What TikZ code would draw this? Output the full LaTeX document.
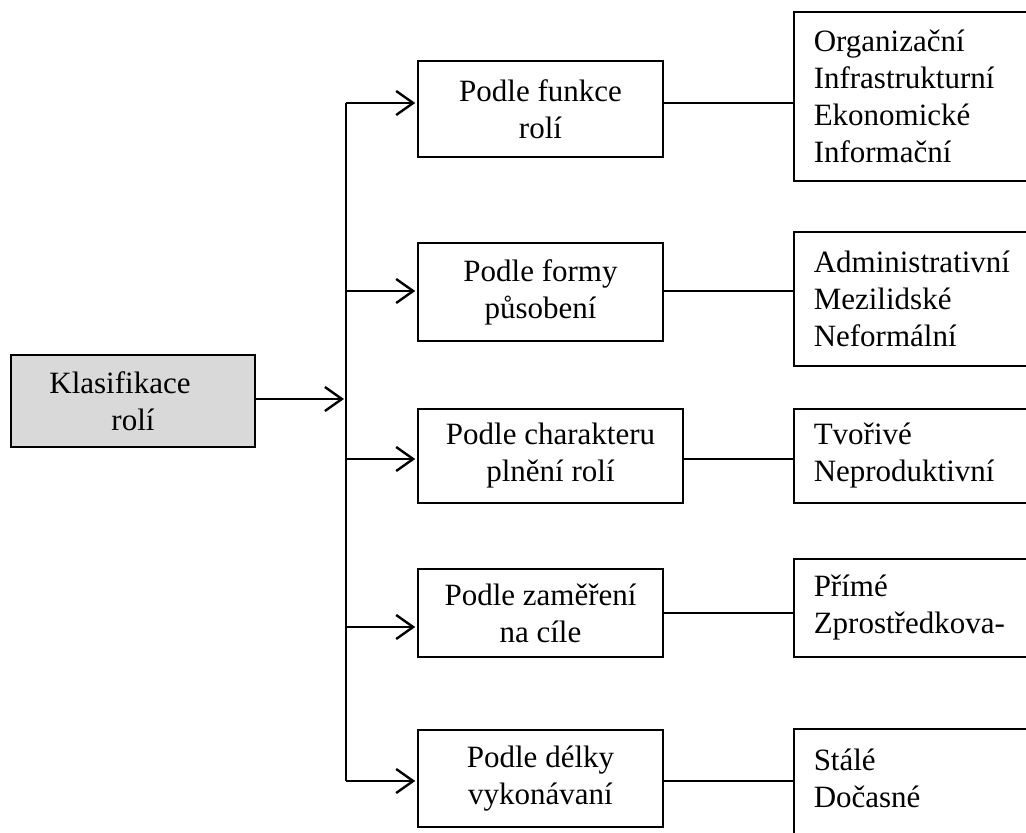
\documentclass[tikz,border=0pt]{standalone}
\usepackage{fontspec}
\setmainfont{Liberation Serif}
\usetikzlibrary{arrows.meta}
\begin{document}
\begin{tikzpicture}[x=1pt,y=-1pt,
  every node/.style={font=\fontsize{31}{37}\selectfont},
  box/.style={draw, line width=1.5pt, inner sep=0pt, align=center},
  rbox/.style={draw, line width=1.5pt, anchor=west, inner xsep=20pt, inner ysep=0pt,
               minimum width=260pt, text width=220pt, align=left},
  arr/.style={line width=2.4pt, -{Straight Barb[length=17pt,width=24pt,line width=2.4pt]}},
  trunk/.style={line width=2.4pt},
  link/.style={line width=1.6pt}]
\useasboundingbox (0,0) rectangle (1026,833);
\clip (0,0) rectangle (1026,833);

% root
\node[box, fill={rgb,255:red,217;green,217;blue,217}, minimum width=244pt, minimum height=92pt]
  (k) at (133,401) {Klasifikace\hspace*{26pt}\\rolí};

% middle boxes
\node[box, minimum width=245pt, minimum height=96pt] (b1) at (540.5,109) {Podle funkce\\rolí};
\node[box, minimum width=245pt, minimum height=98pt] (b2) at (540.5,292) {Podle formy\\působení};
\node[box, minimum width=265pt, minimum height=94pt] (b3) at (550.5,456) {Podle charakteru\\plnění rolí};
\node[box, minimum width=245pt, minimum height=88pt] (b4) at (540.5,613) {Podle zaměření\\na cíle};
\node[box, minimum width=245pt, minimum height=97pt] (b5) at (540.5,778.5) {Podle délky\\vykonávaní};

% right boxes
\node[rbox, minimum height=169pt] (r1) at (793,96.5) {Organizační\\Infrastrukturní\\Ekonomické\\Informační};
\node[rbox, minimum height=134pt] (r2) at (793,299) {Administrativní\\Mezilidské\\Neformální};
\node[rbox, minimum height=94pt] (r3) at (793,456) {Tvořivé\\Neproduktivní};
\node[rbox, minimum height=98pt] (r4) at (793,608) {Přímé\\Zprostředkova-};
\node[rbox, minimum height=116pt, text depth=54pt] (r5) at (793,787) {Stálé\\Dočasné};

% trunk coordinates
\coordinate (tin) at (346,399);
\coordinate (t1) at (346,103);
\coordinate (t2) at (346,291);
\coordinate (t3) at (346,459);
\coordinate (t4) at (346,627);
\coordinate (t5) at (346,781);

\draw[trunk] (t1) -- (t5);
\draw[arr, shorten >=2pt] (k.east |- tin) -- (tin);
\draw[arr, shorten >=2pt] (t1) -- (t1 -| b1.west);
\draw[arr, shorten >=2pt] (t2) -- (t2 -| b2.west);
\draw[arr, shorten >=2pt] (t3) -- (t3 -| b3.west);
\draw[arr, shorten >=2pt] (t4) -- (t4 -| b4.west);
\draw[arr, shorten >=2pt] (t5) -- (t5 -| b5.west);

% links to right boxes
\coordinate (l4) at (0,613);
\draw[link] (b1.east |- t1) -- (r1.west |- t1);
\draw[link] (b2.east |- t2) -- (r2.west |- t2);
\draw[link] (b3.east |- t3) -- (r3.west |- t3);
\draw[link] (b4.east |- l4) -- (r4.west |- l4);
\draw[link] (b5.east |- t5) -- (r5.west |- t5);
\end{tikzpicture}
\end{document}
